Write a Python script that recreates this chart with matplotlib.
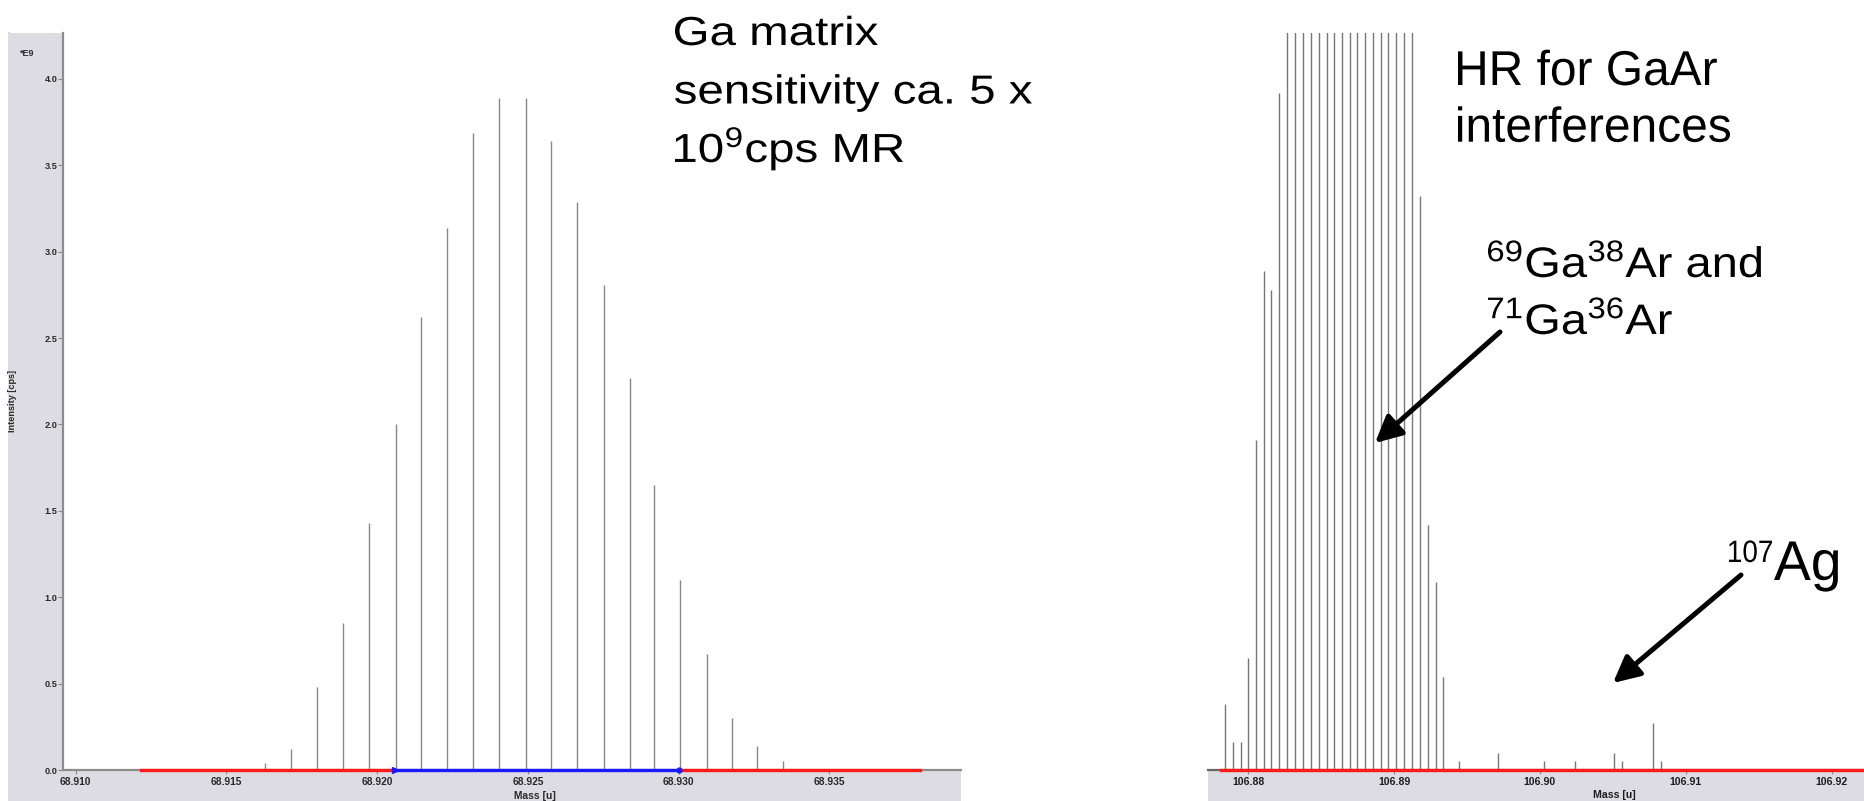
import numpy as np
import matplotlib.pyplot as plt
from matplotlib.patches import Rectangle, FancyArrowPatch, PathPatch
from matplotlib.lines import Line2D
from matplotlib.textpath import TextPath
from matplotlib.font_manager import FontProperties
from matplotlib.transforms import Affine2D

plt.rcParams['font.family'] = ['Liberation Sans', 'DejaVu Sans']
plt.rcParams['mathtext.fontset'] = 'custom'
plt.rcParams['mathtext.rm'] = 'Liberation Sans'
plt.rcParams['mathtext.it'] = 'Liberation Sans:italic'
plt.rcParams['mathtext.bf'] = 'Liberation Sans:bold'

# left: Ga matrix peak, medium resolution, intensity in 1E9 cps
ga_mass = [68.91628, 68.91714, 68.91801, 68.91887, 68.91973, 68.92063, 68.92146,
           68.92232, 68.92318, 68.92405, 68.92494, 68.92577, 68.92663, 68.92753,
           68.92839, 68.92919, 68.93005, 68.93095, 68.93178, 68.93261, 68.93347]
ga_int = [0.04, 0.12, 0.48, 0.85, 1.43, 2.00, 2.62, 3.14, 3.69, 3.89, 3.89,
          3.64, 3.29, 2.81, 2.27, 1.65, 1.10, 0.67, 0.30, 0.14, 0.05]
ga_xticks = [68.910, 68.915, 68.920, 68.925, 68.930, 68.935]
ga_yticks = [0.0, 0.5, 1.0, 1.5, 2.0, 2.5, 3.0, 3.5, 4.0]
ga_xlim = (68.90958, 68.93937)
ga_ylim = (0, 4.266)
ga_red_left = (68.91217, 68.92059)
ga_blue = (68.92059, 68.93002)
ga_red_right = (68.93002, 68.93801)

# right: GaAr interferences + 107Ag, high resolution (same intensity scale, top clipped)
hr_mass = [106.87842, 106.87895, 106.87948, 106.88000, 106.88053, 106.88106,
           106.88158, 106.88213, 106.88267, 106.88322, 106.88377, 106.88430,
           106.88483, 106.88538, 106.88590, 106.88642, 106.88695, 106.88747,
           106.88800, 106.88853, 106.88908, 106.88960, 106.89015, 106.89068,
           106.89122, 106.89175, 106.89230, 106.89285, 106.89335,
           106.89443, 106.89712, 106.90027, 106.90243, 106.90507, 106.90560,
           106.90777, 106.90830]
hr_int = [0.38, 0.16, 0.16, 0.65, 1.91, 2.89, 2.78, 3.92,
          4.8, 5.6, 6.3, 6.9, 7.4, 7.8, 8.0, 8.1, 8.0, 7.8, 7.4, 7.0, 6.5,
          5.9, 5.3, 4.8, 4.4,
          3.32, 1.42, 1.09, 0.54,
          0.05, 0.10, 0.05, 0.05, 0.10, 0.05, 0.27, 0.05]
hr_xticks = [106.88, 106.89, 106.90, 106.91, 106.92]
hr_xlim = (106.877237, 106.922215)
hr_red = (106.87813, 106.922215)

W, H = 1864, 801
fig = plt.figure(figsize=(W / 100, H / 100), dpi=100)


def fx(px):
    return px / W


def fy(py):
    return 1 - py / H


def text_path(s, em, family='Liberation Sans'):
    return TextPath((0, 0), s, size=em, prop=FontProperties(family=family))


def put_text(px, py, s, em, sx=1.0, family='Liberation Sans'):
    # px = left ink edge, py = baseline, both in image pixels from the top left
    tp = text_path(s, em, family)
    x0 = tp.get_extents().x0
    tr = Affine2D().scale(sx, 1).translate(px - x0 * sx, H - py)
    fig.add_artist(PathPatch(tp, transform=tr, facecolor='black', edgecolor='none', lw=0, zorder=6))


def stretch_for(s, em, width, family='Liberation Sans'):
    return width / text_path(s, em, family).get_extents().width


tickfont = dict(family=['Liberation Sans Narrow', 'Liberation Sans'], weight='bold')

# gray frames of the two screenshots
fig.patches.append(Rectangle((fx(8), 0), fx(961) - fx(8), fy(33), transform=fig.transFigure,
                             facecolor='#dcdce2', edgecolor='none', zorder=-1))
fig.lines.append(Line2D([fx(8.5), fx(8.5)], [0, fy(33)], transform=fig.transFigure,
                        color='#b8c4d4', lw=1.2, zorder=-1))
fig.patches.append(Rectangle((fx(1208), 0), 1 - fx(1208), fy(770), transform=fig.transFigure,
                             facecolor='#dcdce2', edgecolor='none', zorder=-1))

# ---- left panel
ax1 = fig.add_axes([fx(63), fy(770), fx(961) - fx(63), fy(33) - fy(770)])
ax1.vlines(ga_mass, 0, ga_int, color='#888888', lw=1.0)
ax1.plot(ga_red_left, [0, 0], color='#ff1a1a', lw=2.4, clip_on=False, zorder=3)
ax1.plot(ga_red_right, [0, 0], color='#ff1a1a', lw=2.4, clip_on=False, zorder=3)
ax1.plot(ga_blue, [0, 0], color='#1a1aff', lw=2.4, clip_on=False, zorder=3)
ax1.plot(ga_blue[0], 0, marker='>', ms=4, color='#1a1aff', clip_on=False, zorder=4)
ax1.plot(ga_blue[1], 0, marker='o', ms=3.5, color='#1a1aff', clip_on=False, zorder=4)
ax1.set_xlim(*ga_xlim)
ax1.set_ylim(*ga_ylim)
ax1.set_xticks(ga_xticks)
ax1.set_xticklabels([f'{v:.3f}' for v in ga_xticks], fontsize=7.4, color='#2a2a2a', **tickfont)
ax1.set_yticks(ga_yticks)
ax1.set_yticklabels([f'{v:.1f}' for v in ga_yticks], fontsize=6.6, color='#2a2a2a', **tickfont)
ax1.tick_params(axis='x', length=3, width=0.8, color='#888888', pad=2.2)
ax1.tick_params(axis='y', length=3.5, width=0.8, color='#888888', pad=0.5)
for s in ['top', 'right']:
    ax1.spines[s].set_visible(False)
ax1.spines['left'].set_color('#8c8c8c')
ax1.spines['left'].set_linewidth(1.6)
ax1.spines['bottom'].set_color('#8c8c8c')
ax1.spines['bottom'].set_linewidth(1.6)
ax1.set_xlabel('Mass [u]', fontsize=7.4, color='#2a2a2a', **tickfont)
ax1.xaxis.set_label_coords((535 - 63) / (961 - 63), -(796 - 770) / 737, transform=ax1.transAxes)
ax1.xaxis.label.set_va('center')
ax1.set_ylabel('Intensity [cps]', fontsize=6.6, color='#2a2a2a', **tickfont)
ax1.yaxis.set_label_coords(-(63 - 17) / (961 - 63), 0.5)
fig.text(fx(27), fy(54), '*E9', fontsize=6.5, color='#2a2a2a', ha='center', va='center', **tickfont)

# ---- right panel
ax2 = fig.add_axes([fx(1208), fy(770), 1 - fx(1208), fy(33) - fy(770)])
ax2.vlines(hr_mass, 0, hr_int, color='#777777', lw=1.0)
ax2.plot(hr_red, [0, 0], color='#ff1a1a', lw=2.4, clip_on=False, zorder=3)
ax2.set_xlim(*hr_xlim)
ax2.set_ylim(*ga_ylim)
ax2.set_xticks(hr_xticks)
ax2.set_xticklabels([f'{v:.2f}' for v in hr_xticks], fontsize=7.6, color='#1e1e1e', **tickfont)
ax2.set_yticks([])
ax2.tick_params(axis='x', length=3, width=0.8, color='#888888', pad=2.2)
for s in ['top', 'right', 'left']:
    ax2.spines[s].set_visible(False)
ax2.spines['bottom'].set_color('#666666')
ax2.spines['bottom'].set_linewidth(1.6)
ax2.set_xlabel('Mass [u]', fontsize=7.6, color='#1e1e1e', **tickfont)
ax2.xaxis.set_label_coords((1614 - 1208) / (1864 - 1208), -(795 - 770) / 737, transform=ax2.transAxes)
ax2.xaxis.label.set_va('center')

# ---- annotations (slide text, each block with its own aspect)
ga_lines = ['Ga matrix', 'sensitivity ca. 5 x', '10$^{9}$cps MR']
em_l = 40.5
sx_l = stretch_for(ga_lines[1], em_l, 357)
for s, yb in zip(ga_lines, [45, 103.5, 162]):
    put_text(675, yb, s, em_l, sx_l)

hr_lines = ['HR for GaAr', 'interferences']
em_h = 48.9
sx_h = stretch_for(hr_lines[1], em_h, 272)
for s, yb in zip(hr_lines, [85, 141.7]):
    put_text(1458, yb, s, em_h, sx_h)

int_lines = ['$^{69}$Ga$^{38}$Ar and', '$^{71}$Ga$^{36}$Ar']
em_i = 42.6
sx_i = stretch_for(int_lines[0], em_i, 273)
for s, yb in zip(int_lines, [277, 334]):
    put_text(1488, yb, s, em_i, sx_i)

em_ag = 56.0
put_text(1774, 580, 'Ag', em_ag, stretch_for('Ag', em_ag, 64))
put_text(1729, 562, '107', 31.0, stretch_for('107', 31.0, 43))

for (x0, y0), (x1, y1) in [((1500, 332), (1375, 443)), ((1741, 575), (1613, 683))]:
    fig.add_artist(FancyArrowPatch((fx(x0), fy(y0)), (fx(x1), fy(y1)), transform=fig.transFigure,
                                   arrowstyle='-|>', mutation_scale=40, lw=3.6, color='black',
                                   shrinkA=0, shrinkB=0, zorder=5))

fig.savefig('out.png', dpi=100)
